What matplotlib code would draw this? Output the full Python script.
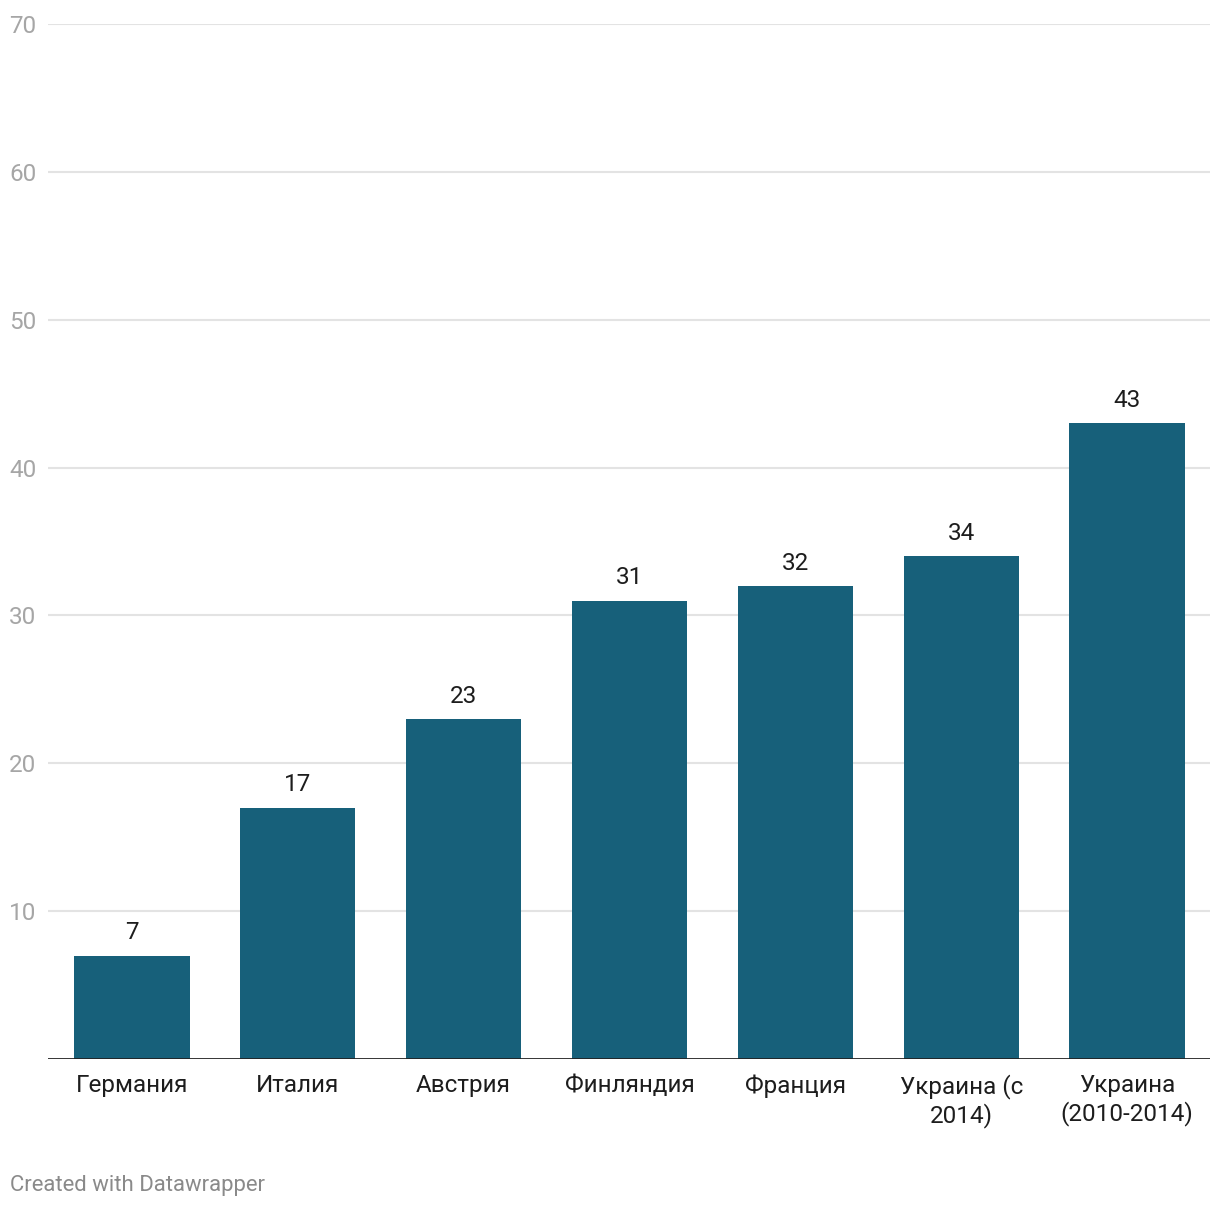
import numpy as np
import matplotlib.pyplot as plt
import matplotlib.transforms as mtransforms

# Chart data
countries = ['Германия', 'Италия', 'Австрия', 'Финляндия', 'Франция',
             'Украина (с\n2014)', 'Украина\n(2010-2014)']
values = [7, 17, 23, 31, 32, 34, 43]
y_ticks = [10, 20, 30, 40, 50, 60, 70]

plt.rcParams['font.family'] = ['Roboto', 'DejaVu Sans']

W, H = 1220, 1208
fig = plt.figure(figsize=(W / 100, H / 100), dpi=100)
# axes area in pixels: x 48..1210, y 24 (70) .. 1059 (0)
ax = fig.add_axes([48 / W, 1 - 1059 / H, (1210 - 48) / W, (1059 - 24) / H])

x = np.arange(len(countries))
ax.bar(x, values, width=0.695, color='#17607a', zorder=3)

for xi, v in zip(x, values):
    ax.text(xi, v + 1.1, str(v), ha='center', va='baseline', fontsize=17.5, color='#1d1d1d')

ax.set_xlim(-0.506, 6.5)
ax.set_ylim(0, 70)

# y labels sit at the left edge of the figure
trans = mtransforms.blended_transform_factory(fig.transFigure, ax.transData)
for t in y_ticks:
    ax.axhline(t, color='#e3e3e3', lw=1.5, zorder=1)
    ax.text(9 / W, t, str(t), transform=trans, ha='left',
            va='center_baseline', fontsize=17.5, color='#a6a6a6')
ax.axhline(0, color='#222222', lw=2, zorder=4)

ax.set_yticks([])
ax.set_xticks(x)
ax.set_xticklabels(countries, fontsize=17.5, color='#1d1d1d', linespacing=1.2)
ax.tick_params(axis='x', length=0, pad=11)
for s in ax.spines.values():
    s.set_visible(False)

fig.text(10 / W, 1 - 1185 / H, 'Created with Datawrapper', fontsize=15.9,
         color='#8a8a8a', ha='left', va='center')

fig.savefig('out.png', dpi=100)
